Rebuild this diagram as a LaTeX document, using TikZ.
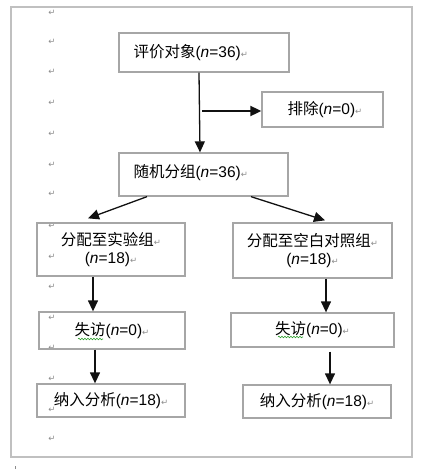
\documentclass[tikz,border=0pt]{standalone}
\usepackage{fontspec}
\usepackage{xcolor}
\usetikzlibrary{arrows.meta,decorations.pathmorphing}
\setmainfont{Liberation Sans}
\newfontfamily\cjk{Noto Sans CJK SC}
\newfontfamily\dejavu{DejaVu Sans}
\definecolor{framegray}{HTML}{C0C0C0}
\definecolor{boxgray}{HTML}{A6A6A6}
\definecolor{markgray}{HTML}{8C8C8C}
\definecolor{arrowblack}{HTML}{111111}
\definecolor{spellgreen}{HTML}{2E9E2E}
\newcommand{\pmark}{{\dejavu\fontsize{8.5}{8.5}\selectfont\color{markgray}↵}}
\newcommand{\zh}[1]{{\cjk #1}}
\tikzset{every node/.append style={font=\fontsize{15.5}{18}\selectfont},
  flowbox/.style={draw=boxgray,line width=1.3pt,inner sep=0pt,align=center},
  flowtext/.style={inner sep=0pt,anchor=west},
  flowarrow/.style={arrowblack,line width=1.3pt,-{Triangle[width=10pt,length=11pt]}},
  spell/.style={spellgreen,line width=.6pt,decorate,
    decoration={snake,amplitude=.8pt,segment length=3pt}}}

\begin{document}
\begin{tikzpicture}[x=1pt,y=-1pt]
  \useasboundingbox (0,0) rectangle (428,469);
  \draw[framegray,line width=1.5pt] (11,7) rectangle (412,457);
  \draw[markgray,line width=.5pt] (15,466) -- (15,469);
  % paragraph marks in the margin
  \foreach \y [count=\i] in {13,42,72,103,134,165,194,226,257,287,318,348,379,410,439}
    \node[inner sep=0pt] (pm\i) at (52,\y) {\pmark};
  % boxes
  \node[flowbox,minimum width=170pt,minimum height=39pt] (obj) at (204,52.5) {};
  \node[flowtext] (objtxt) at ([xshift=15pt]obj.west) {\zh{评价对象}(\textit{n}=36)\pmark};
  \node[flowbox,minimum width=121pt,minimum height=35pt] (excl) at (322.5,109.5) {};
  \node[flowtext] (excltxt) at ([xshift=26pt]excl.west) {\zh{排除}(\textit{n}=0)\pmark};
  \node[flowbox,minimum width=169pt,minimum height=43pt] (rand) at (203.5,174.5) {};
  \node[flowtext] (randtxt) at ([xshift=15pt,yshift=2pt]rand.west) {\zh{随机分组}(\textit{n}=36)\pmark};
  \node[flowbox,minimum width=148pt,minimum height=53pt] (grpA) at (111,249.5)
    {\zh{分配至实验组}\pmark\\(\textit{n}=18)\pmark};
  \node[flowbox,minimum width=159pt,minimum height=55pt] (grpB) at (312.5,250.5)
    {\zh{分配至空白对照组}\pmark\\(\textit{n}=18)\pmark};
  \node[flowbox,minimum width=146pt,minimum height=37pt] (lossA) at (112,330.5)
    {\zh{失访}(\textit{n}=0)\pmark};
  \node[flowbox,minimum width=163pt,minimum height=34pt] (lossB) at (312.5,330)
    {\zh{失访}(\textit{n}=0)\pmark};
  \node[flowbox,minimum width=148pt,minimum height=33pt] (incA) at (111,400.5)
    {\zh{纳入分析}(\textit{n}=18)\pmark};
  \node[flowbox,minimum width=148pt,minimum height=33pt] (incB) at (317,401.5)
    {\zh{纳入分析}(\textit{n}=18)\pmark};
  % spelling marks
  \draw[spell] (78,339) -- (103,339);
  \draw[spell] (278,337) -- (303,337);
  % arrows
  \coordinate (split) at (202,111);
  \draw[flowarrow] ([xshift=-5pt]obj.south) -- ([xshift=-3.5pt]rand.north);
  \draw[flowarrow,line width=1.8pt] (split) -- (split -| excl.west);
  \draw[flowarrow] ([xshift=-56.5pt]rand.south) -- ([xshift=-23pt,yshift=4pt]grpA.north);
  \draw[flowarrow] ([xshift=47.5pt]rand.south) -- ([xshift=12.5pt,yshift=2pt]grpB.north);
  \draw[flowarrow] ([xshift=-18pt]grpA.south) -- ([xshift=-19pt]lossA.north);
  \draw[flowarrow] ([xshift=13.5pt]grpB.south) -- ([xshift=13.5pt]lossB.north);
  \draw[flowarrow] ([xshift=-17pt]lossA.south) -- ([xshift=-16pt]incA.north);
  \draw[flowarrow] ([xshift=17.5pt,yshift=-4pt]lossB.south) -- ([xshift=13pt]incB.north);
\end{tikzpicture}
\end{document}
